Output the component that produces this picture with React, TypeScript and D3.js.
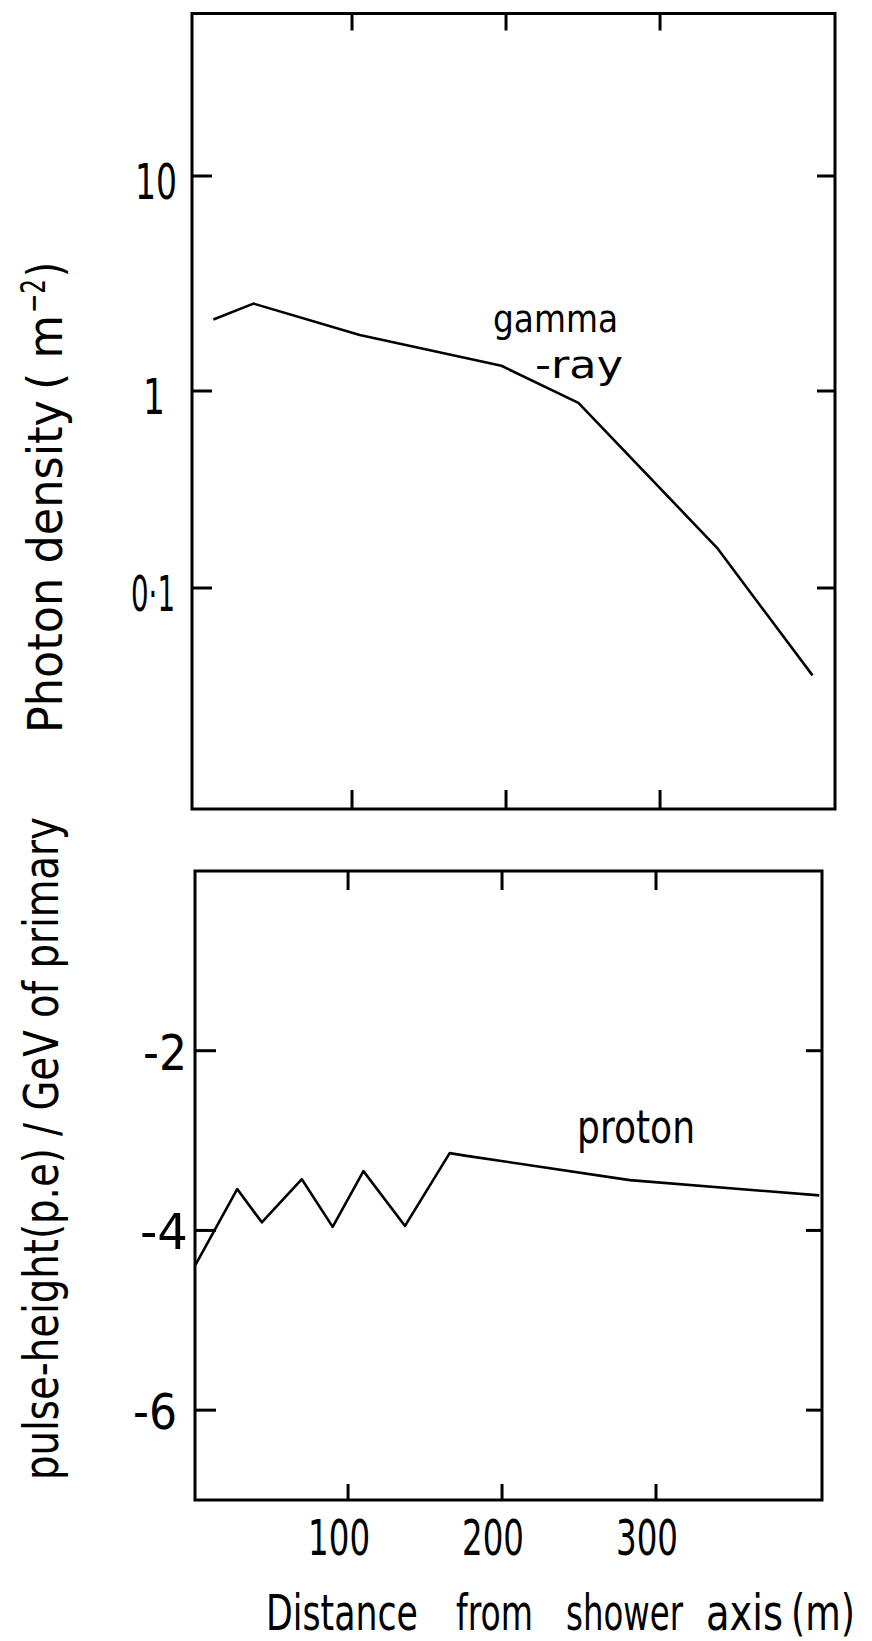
import React, { useLayoutEffect, useRef, useState } from "react";
import * as d3 from "d3";

// ---- data ----
const gammaX = [10, 36, 105, 197, 247, 337, 399];
const gammaY = [2.15, 2.55, 1.82, 1.31, 0.87, 0.16, 0.036];

const protonX = [1, 28, 44, 70, 90, 110, 137, 166, 177, 283, 406];
const protonY = [-4.38, -3.54, -3.91, -3.43, -3.96, -3.34, -3.95, -3.14, -3.17, -3.44, -3.61];

const xTicks = [100, 200, 300];
const xTickLabels = ["100", "200", "300"];
const topYTicks = [10, 1, 0.1];
const topYTickLabels = ["10", "1", "0·1"];
const botYTicks = [-2, -4, -6];
const botYTickLabels = ["-2", "-4", "-6"];
const xTitleWords = ["Distance", "from", "shower", "axis", "(m)"];

const FONT = "'DejaVu Sans', 'Liberation Sans', sans-serif";

// Text squeezed horizontally (along its own direction) to a given length.
function FitText(props: {
  x: number;
  y: number;
  width: number;
  fontSize: number;
  rotate?: number;
  children: string;
}) {
  const ref = useRef<SVGTextElement>(null);
  const [s, setS] = useState(0.6);
  useLayoutEffect(() => {
    if (ref.current) {
      const n = ref.current.getComputedTextLength();
      if (n > 0) setS(props.width / n);
    }
  }, [props.width, props.children, props.fontSize]);
  const r = props.rotate || 0;
  return (
    <g transform={`translate(${props.x},${props.y}) rotate(${r}) scale(${s},1)`}>
      <text ref={ref} x={0} y={0} fontFamily={FONT} fontSize={props.fontSize} style={{ whiteSpace: "pre" }}>
        {props.children}
      </text>
    </g>
  );
}

export default function App() {
  // top panel frame
  const T = { l: 192, r: 835, t: 13.5, b: 809 };
  // bottom panel frame
  const B = { l: 195, r: 822, t: 871, b: 1500 };

  const xTop = d3.scaleLinear().domain([-3.9, 413.6]).range([T.l, T.r]);
  const xBot = d3.scaleLinear().domain([0.6, 407.8]).range([B.l, B.r]);

  const yTop = d3
    .scaleLog()
    .domain([57, 10, 1, 0.1, 0.00755])
    .range([T.t, 176, 391, 588, T.b]);
  const yBot = d3.scaleLinear().domain([-7, 0]).range([B.b, B.t]);

  const gammaPts = gammaX.map((x, i) => [xTop(x), yTop(gammaY[i])] as [number, number]);
  const protonPts = protonX.map((x, i) => [xBot(x), yBot(protonY[i])] as [number, number]);
  const line = d3.line();

  const tickW = 3;
  const frameW = 3;

  // x title word layout (left x, length)
  const titleX = [266, 456, 566, 706, 791];
  const titleLen = [152, 77, 117, 77, 64];

  return (
    <svg width={872} height={1641} style={{ display: "block", background: "#fff", marginTop: -8, marginLeft: -8 }}>
      <rect x={0} y={0} width={872} height={1641} fill="#fff" />
      {/* ---- top panel ---- */}
      <rect x={T.l} y={T.t} width={T.r - T.l} height={T.b - T.t} fill="none" stroke="#000" strokeWidth={frameW} />
      {xTicks.map((v) => (
        <g key={"tx" + v}>
          <line x1={xTop(v)} x2={xTop(v)} y1={T.t} y2={T.t + 17} stroke="#000" strokeWidth={tickW} />
          <line x1={xTop(v)} x2={xTop(v)} y1={T.b} y2={T.b - 19} stroke="#000" strokeWidth={tickW} />
        </g>
      ))}
      {topYTicks.map((v, i) => (
        <g key={"ty" + v}>
          <line x1={T.l} x2={T.l + 20} y1={yTop(v)} y2={yTop(v)} stroke="#000" strokeWidth={tickW} />
          <line x1={T.r} x2={T.r - 18} y1={yTop(v)} y2={yTop(v)} stroke="#000" strokeWidth={tickW} />
          <FitText
            x={i === 1 ? 143 : i === 0 ? 135 : 131}
            y={yTop(v) + 23}
            fontSize={50}
            width={i === 1 ? 22 : i === 0 ? 42 : 44}
          >
            {topYTickLabels[i]}
          </FitText>
        </g>
      ))}
      <path d={line(gammaPts) || ""} fill="none" stroke="#000" strokeWidth={2.6} strokeLinejoin="round" />
      <FitText x={493} y={332} fontSize={37} width={125}>
        gamma
      </FitText>
      <FitText x={535} y={378} fontSize={37} width={88}>
        -ray
      </FitText>
      {/* top y label */}
      <g transform="translate(62,733) rotate(-90)">
        <FitText x={0} y={0} fontSize={48} width={333}>
          Photon density
        </FitText>
        <FitText x={343} y={0} fontSize={48} width={75}>
          ( m
        </FitText>
        <FitText x={420} y={-17} fontSize={34} width={34}>
          −2
        </FitText>
        <FitText x={456} y={0} fontSize={48} width={15}>
          )
        </FitText>
      </g>

      {/* ---- bottom panel ---- */}
      <rect x={B.l} y={B.t} width={B.r - B.l} height={B.b - B.t} fill="none" stroke="#000" strokeWidth={frameW} />
      {xTicks.map((v, i) => (
        <g key={"bx" + v}>
          <line x1={xBot(v)} x2={xBot(v)} y1={B.t} y2={B.t + 19} stroke="#000" strokeWidth={tickW} />
          <line x1={xBot(v)} x2={xBot(v)} y1={B.b} y2={B.b - 16} stroke="#000" strokeWidth={tickW} />
          <FitText x={xBot(v) - 40} y={1555} fontSize={50} width={62}>
            {xTickLabels[i]}
          </FitText>
        </g>
      ))}
      {botYTicks.map((v, i) => (
        <g key={"by" + v}>
          <line x1={B.l} x2={B.l + 21} y1={yBot(v)} y2={yBot(v)} stroke="#000" strokeWidth={tickW} />
          <line x1={B.r} x2={B.r - 16} y1={yBot(v)} y2={yBot(v)} stroke="#000" strokeWidth={tickW} />
          <FitText
            x={i === 0 ? 143 : i === 1 ? 140 : 133}
            y={yBot(v) + 19}
            fontSize={50}
            width={i === 1 ? 48 : 44}
          >
            {botYTickLabels[i]}
          </FitText>
        </g>
      ))}
      <path d={line(protonPts) || ""} fill="none" stroke="#000" strokeWidth={2.6} strokeLinejoin="round" />
      <FitText x={577} y={1143} fontSize={46} width={118}>
        proton
      </FitText>
      {/* bottom y label */}
      <FitText x={58} y={1480} rotate={-90} fontSize={48} width={663}>
        pulse-height(p.e) / GeV of primary
      </FitText>
      {/* x axis title */}
      {xTitleWords.map((w, i) => (
        <FitText key={w} x={titleX[i]} y={1630} fontSize={50} width={titleLen[i]}>
          {w}
        </FitText>
      ))}
    </svg>
  );
}
